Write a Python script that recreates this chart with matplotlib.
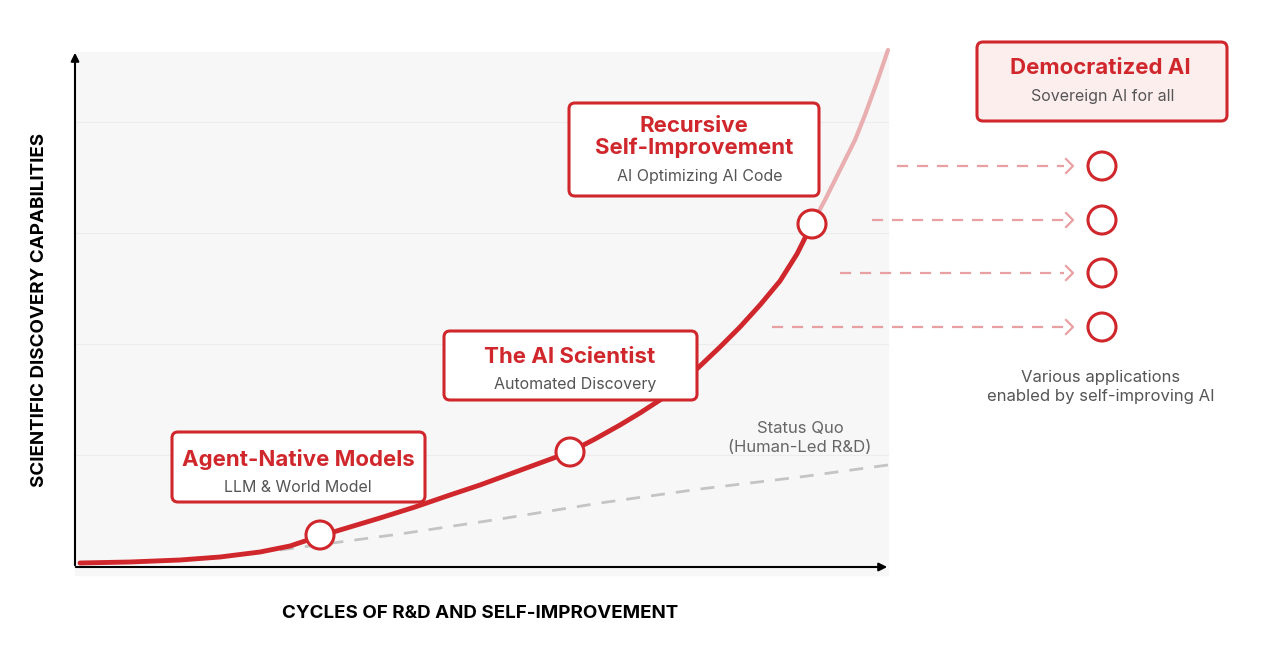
import matplotlib.pyplot as plt
from matplotlib.patches import FancyBboxPatch, Circle, Rectangle

RED = '#d0272c'
PINK = '#e8a0a2'
GREY = '#c4c4c4'

# curve (pixel coords)
main_x = [80, 130, 180, 220, 260, 290, 320, 350, 380, 415, 450, 480, 510, 540, 570,
          595, 620, 640, 660, 680, 700, 720, 740, 760, 780, 797, 812]
main_y = [563, 562, 560, 557, 552, 546, 536, 527, 518, 507, 495, 485, 474, 463, 452,
          439, 425, 413, 400, 384, 366, 347, 327, 305, 281, 254, 224]
fade_x = [812, 825, 840, 855, 865, 877, 888]
fade_y = [224, 200, 170, 140, 115, 82, 50]
sq_x = [280, 400, 500, 600, 700, 800, 888]
sq_y = [550, 534, 519, 503, 489, 477, 465]
milestones_x = [320, 570, 812]
milestones_y = [535, 452, 224]
apps_y = [166, 220, 273, 327]
arrow_start = [897, 872, 840, 772]

plt.rcParams['font.family'] = ['Inter', 'DejaVu Sans']
fig = plt.figure(figsize=(12.64, 6.49), dpi=100)
ax = fig.add_axes([0, 0, 1, 1])
ax.set_xlim(0, 1264)
ax.set_ylim(649, 0)
ax.axis('off')

ax.add_patch(Rectangle((75, 52), 813, 523, color='#f7f7f7', zorder=0))
for gy in [122, 233, 344, 455]:
    ax.plot([75, 888], [gy, gy], color='#ececec', lw=0.8, zorder=1)

ax.annotate('', xy=(75, 50), xytext=(75, 568),
            arrowprops=dict(arrowstyle='-|>', color='black', lw=1.5, mutation_scale=12))
ax.annotate('', xy=(890, 567), xytext=(73, 567),
            arrowprops=dict(arrowstyle='-|>', color='black', lw=1.5, mutation_scale=12))

ax.plot(sq_x, sq_y, color=GREY, lw=2, ls=(0, (5, 4)), zorder=2)
ax.plot(fade_x, fade_y, color='#e9aeb0', lw=3, zorder=2, solid_capstyle='round')
ax.plot(main_x, main_y, color=RED, lw=3.5, zorder=3, solid_capstyle='round',
        solid_joinstyle='round')
for cx, cy in zip(milestones_x, milestones_y):
    ax.add_patch(Circle((cx, cy), 14, facecolor='white', edgecolor=RED, lw=2.2, zorder=4))

def box(x0, y0, x1, y1, fc='white'):
    ax.add_patch(FancyBboxPatch((x0, y0), x1 - x0, y1 - y0,
                                boxstyle='round,pad=0,rounding_size=6',
                                facecolor=fc, edgecolor=RED, lw=2.2, zorder=5))

TS = 16
SS = 11.5
box(172, 432, 425, 502)
ax.text(298, 459, 'Agent-Native Models', color=RED, fontsize=TS, weight='bold', ha='center', va='center', zorder=6)
ax.text(298, 487, 'LLM & World Model', color='#555555', fontsize=SS, ha='center', va='center', zorder=6)
box(444, 331, 697, 400)
ax.text(570, 357, 'The AI Scientist', color=RED, fontsize=TS, weight='bold', ha='center', va='center', zorder=6)
ax.text(575, 384, 'Automated Discovery', color='#555555', fontsize=SS, ha='center', va='center', zorder=6)
box(569, 103, 819, 196)
ax.text(694, 137, 'Recursive\nSelf-Improvement', color=RED, fontsize=TS, weight='bold',
        ha='center', va='center', linespacing=1.1, zorder=6)
ax.text(700, 177, 'AI Optimizing AI Code', color='#555555', fontsize=SS, ha='center', va='center', zorder=6)
box(977, 42, 1227, 121, fc='#fdeeee')
ax.text(1100, 68, 'Democratized AI', color=RED, fontsize=TS, weight='bold', ha='center', va='center', zorder=6)
ax.text(1103, 96, 'Sovereign AI for all', color='#555555', fontsize=SS, ha='center', va='center', zorder=6)

ax.text(800, 438, 'Status Quo\n(Human-Led R&D)', color='#666666', fontsize=12,
        ha='center', va='center', linespacing=1.3)

for sx, ay in zip(arrow_start, apps_y):
    ax.plot([sx, 1064], [ay, ay], color=PINK, lw=1.6, ls=(0, (5, 4)))
    ax.plot([1066, 1073, 1066], [ay - 7, ay, ay + 7], color=PINK, lw=1.6)
    ax.add_patch(Circle((1102, ay), 14, facecolor='white', edgecolor=RED, lw=2.2, zorder=4))

ax.text(1101, 387, 'Various applications\nenabled by self-improving AI', color='#555555',
        fontsize=12, ha='center', va='center', linespacing=1.3)

ax.text(480, 614, 'CYCLES OF R&D AND SELF-IMPROVEMENT', fontsize=13.5, weight='bold',
        ha='center', va='center')
ax.text(40, 310, 'SCIENTIFIC DISCOVERY CAPABILITIES', fontsize=13.5, weight='bold',
        ha='center', va='center', rotation=90)

fig.savefig('out.png', dpi=100)
